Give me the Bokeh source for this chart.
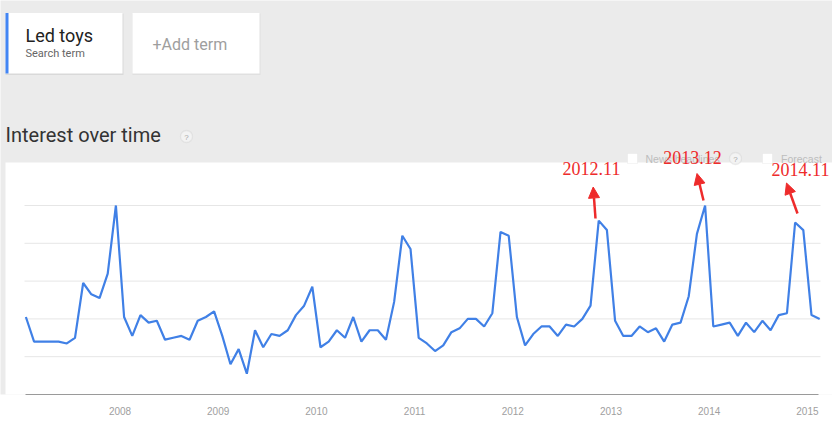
from bokeh.plotting import figure
from bokeh.models import Range1d, FixedTicker, BoxAnnotation, Label, Arrow, NormalHead
from bokeh.embed import file_html
from bokeh.resources import INLINE

# ---------------- data ----------------
months = [f"{y}-{m:02d}" for y in range(2007, 2016) for m in range(1, 13)][:98]
interest = [
    41, 28, 28, 28, 28, 27, 30, 59, 53, 51, 64, 100,   # 2007
    41, 31, 42, 38, 39, 29, 30, 31, 29, 39, 41, 44,    # 2008
    31, 16, 24, 11, 34, 25, 32, 31, 34, 42, 47, 57,    # 2009
    25, 28, 34, 30, 41, 28, 34, 34, 29, 49, 84, 77,    # 2010
    30, 27, 23, 26, 33, 35, 40, 40, 36, 43, 86, 84,    # 2011
    41, 26, 32, 36, 36, 31, 37, 36, 40, 47, 92, 87,    # 2012
    39, 31, 31, 36, 33, 35, 28, 37, 38, 52, 85, 100,   # 2013
    36, 37, 38, 31, 38, 33, 39, 34, 42, 43, 91, 87,    # 2014
    42, 40,                                            # 2015
]
year_ticks = [2008, 2009, 2010, 2011, 2012, 2013, 2014, 2015]
tick_labels = ["2008", "2009", "2010", "2011", "2012", "2013", "2014", "2015"]
grid_values = [20, 40, 60, 80, 100]
ann_labels = ["2012.11", "2013.12", "2014.11"]
search_term = "Led toys"

# month mid-points as decimal years
x_vals = [int(s[:4]) + (int(s[5:]) - 0.5) / 12.0 for s in months]

# ---------------- layout helpers (canvas pixel -> data) ----------------
W, H = 832, 419
AXIS_PY = 394.0

def X(px):
    return 2008 + (px - 119.5) / 98.2

def Y(py):
    return (AXIS_PY - py) / 1.89

RED = "#ee2b2b"
BLUE = "#4080e6"

p = figure(width=W, height=H,
           x_range=Range1d(X(0), X(W)), y_range=Range1d(0, Y(0)),
           output_backend="svg", toolbar_location=None,
           y_axis_location=None,
           min_border_left=0, min_border_right=0,
           min_border_top=0, min_border_bottom=int(H - AXIS_PY))
p.border_fill_color = "white"
p.background_fill_color = "#ebebeb"
p.outline_line_color = None
p.grid.visible = False

def box(l, t, r, b, **kw):
    kw.setdefault("line_color", None)
    b_ = BoxAnnotation(left=X(l), right=X(r), top=Y(t), bottom=Y(b), fill_alpha=1, **kw)
    p.add_layout(b_)
    return b_

# white chart panel
box(5, 162, W + 10, H + 10, fill_color="white", level="image")

# horizontal grid lines (limited to the plot width, like the original)
p.segment(x0=[X(24)] * len(grid_values), x1=[X(820)] * len(grid_values),
          y0=grid_values, y1=grid_values, line_color="#e6e6e6", line_width=1)

ax = p.xaxis[0]
ax.ticker = FixedTicker(ticks=year_ticks)
ax.major_label_overrides = {t: l for t, l in zip(year_ticks, tick_labels)}
ax.bounds = (X(25), X(818))
ax.major_tick_line_color = None
ax.minor_tick_line_color = None
ax.axis_line_color = "#9a9a9a"
ax.axis_line_width = 1.2
ax.major_label_text_font = "Liberation Sans"
ax.major_label_text_font_size = "10px"
ax.major_label_text_color = "#a0a0a0"
ax.major_label_standoff = 6

p.line(x_vals, interest, line_color=BLUE, line_width=2.2)

# ---------------- header cards ----------------
box(5, 13, 123, 74.5, fill_color="#d9d9d9")
box(5, 12.5, 122, 73, fill_color="white")
box(5, 12.5, 8, 73, fill_color="#4285f4")
box(132, 13, 260, 74.5, fill_color="#e0e0e0")
box(132, 12.5, 259, 73, fill_color="white")

def label(px, py, text, size, color, font="Roboto", align="left", baseline="alphabetic"):
    s = float(size.replace("px", ""))
    if baseline == "alphabetic":
        py = py - 0.4 * s   # compensate the renderer's baseline placement
    p.add_layout(Label(x=X(px), y=Y(py), text=text, text_font=font, text_font_size=size,
                       text_color=color, text_align=align, text_baseline=baseline))

label(25, 41.7, search_term, "18px", "#222222")
label(25, 57.3, "Search term", "11px", "#666666")
label(152, 50.5, "+Add term", "16px", "#9e9e9e")
label(5, 142, "Interest over time", "20px", "#333333")

def qmark(cx, cy):
    box(cx - 6, cy - 6, cx + 6, cy + 6, fill_color="#f3f3f3", line_color="#c8c8c8",
        line_width=1.3, border_radius=6)
    label(cx, cy + 0.5, "?", "8px", "#a8a8a8", font="Liberation Sans", align="center", baseline="middle")

qmark(186, 136)

# legend row
box(627, 153, 637, 163, fill_color="white", line_color="#dddddd")
label(645, 162.3, "News headlines", "10.5px", "#bdbdbd", font="Liberation Sans")
qmark(735, 158)
box(762, 153, 772, 163, fill_color="white", line_color="#dddddd")
label(780.5, 162.3, "Forecast", "10.5px", "#bdbdbd", font="Liberation Sans")

# ---------------- red annotations ----------------
ann_pos = [(591, 175), (692, 164), (800, 176)]
arrows = [((595, 218), (592.7, 186.5)), ((703, 200), (696.5, 173)), ((797, 213), (786, 182.5))]
for txt, (tx, ty) in zip(ann_labels, ann_pos):
    label(tx, ty, txt, "18px", RED, font="Liberation Serif", align="center")
for (sx, sy), (ex, ey) in arrows:
    p.add_layout(Arrow(x_start=X(sx), y_start=Y(sy), x_end=X(ex), y_end=Y(ey),
                       line_color=RED, line_width=2.5,
                       end=NormalHead(size=11, fill_color=RED, line_color=RED, line_width=1)))

open("out.html", "w").write(file_html(p, INLINE))
